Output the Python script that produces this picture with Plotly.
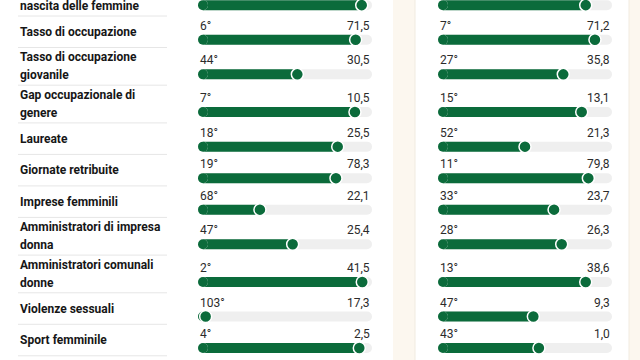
import plotly.graph_objects as go

# ---- data ----
labels = [
    "Speranza di vita alla<br>nascita delle femmine",
    "Tasso di occupazione",
    "Tasso di occupazione<br>giovanile",
    "Gap occupazionale di<br>genere",
    "Laureate",
    "Giornate retribuite",
    "Imprese femminili",
    "Amministratori di impresa<br>donna",
    "Amministratori comunali<br>donne",
    "Violenze sessuali",
    "Sport femminile",
]
left_rank = ["3°", "6°", "44°", "7°", "18°", "19°", "68°", "47°", "2°", "103°", "4°"]
left_value = ["85,9", "71,5", "30,5", "10,5", "25,5", "78,3", "22,1", "25,4", "41,5", "17,3", "2,5"]
left_score = [94.1, 90.6, 57.1, 90.2, 80.3, 79.3, 35.6, 54.4, 94.4, 4.4, 92.7]

right_rank = ["13°", "7°", "27°", "15°", "52°", "11°", "33°", "28°", "13°", "47°", "43°"]
right_value = ["85,5", "71,2", "35,8", "13,1", "21,3", "79,8", "23,7", "26,3", "38,6", "9,3", "1,0"]
right_score = [84.9, 90.2, 72.0, 82.6, 50.0, 86.4, 66.7, 71.1, 84.9, 54.8, 58.0]

# ---- layout helpers (pixel geometry) ----
W, H = 640, 360
GREEN = "#0b6b3b"
TRACK = "#efefef"
CREAM = "#fcf7ef"
LINE_H1, LINE_H2 = 31.5, 37.7
BAR_PX = 10
TRACK_PX = 174
top = 16 - LINE_H2

row_top, row_bot = [], []
y = top
for lab in labels:
    h = LINE_H2 if "<br>" in lab else LINE_H1
    row_top.append(y)
    y += h
    row_bot.append(y)
centers = [(a + b) / 2 for a, b in zip(row_top, row_bot)]
bar_y = [c + 8 for c in centers]
txt_y = [c - 6 for c in centers]
cap = (BAR_PX / 2) / TRACK_PX * 100  # cap radius in data units

panels = [
    ("x", (198 / W, 372 / W), left_rank, left_value, left_score),
    ("x2", (438 / W, 612 / W), right_rank, right_value, right_score),
]

fig = go.Figure()
annotations = []
for xa, dom, ranks, vals, scores in panels:
    n = len(scores)
    # track: bar with rounded right end + round left cap
    fig.add_trace(go.Bar(orientation="h", y=bar_y, x=[100 - cap] * n, base=[cap] * n,
                         width=BAR_PX, marker=dict(color=TRACK, cornerradius="50%", line=dict(width=0)),
                         xaxis=xa, yaxis="y", hoverinfo="skip", showlegend=False))
    fig.add_trace(go.Scatter(x=[cap] * n, y=bar_y, mode="markers",
                             marker=dict(size=BAR_PX, color=TRACK, line=dict(width=0)),
                             xaxis=xa, yaxis="y", hoverinfo="skip", showlegend=False))
    # fill
    fig.add_trace(go.Bar(orientation="h", y=bar_y, x=[max(s - cap, 0.01) for s in scores],
                         base=[cap] * n,
                         width=BAR_PX, marker=dict(color=GREEN, line=dict(width=0)),
                         xaxis=xa, yaxis="y", hoverinfo="skip", showlegend=False))
    fig.add_trace(go.Scatter(x=[cap] * n, y=bar_y, mode="markers",
                             marker=dict(size=BAR_PX, color=GREEN, line=dict(width=0)),
                             xaxis=xa, yaxis="y", hoverinfo="skip", showlegend=False))
    # dot
    fig.add_trace(go.Scatter(x=scores, y=bar_y, mode="markers",
                             marker=dict(size=12, color=GREEN, line=dict(color="white", width=1.5)),
                             xaxis=xa, yaxis="y", hoverinfo="skip", showlegend=False))
    for r, v, ty in zip(ranks, vals, txt_y):
        annotations.append(dict(x=0, y=ty, xref=xa, yref="y", text=r, showarrow=False,
                                xanchor="left", yanchor="middle",
                                font=dict(family="Roboto", size=12, color="#2b2b2b")))
        annotations.append(dict(x=100, y=ty, xref=xa, yref="y", text=v, showarrow=False,
                                xanchor="right", yanchor="middle",
                                font=dict(family="Roboto", size=12, color="#2b2b2b")))

for lab, c in zip(labels, centers):
    lines = lab.split("<br>")
    k = len(lines)
    for i, ln in enumerate(lines):
        ly = c + (i - (k - 1) / 2) * 18
        annotations.append(dict(x=18 / W, y=ly, xref="paper", yref="y", text="<b>" + ln + "</b>",
                                showarrow=False, xanchor="left", yanchor="middle", align="left",
                                font=dict(family="Roboto", size=12, color="#161616")))

shapes = [
    dict(type="rect", xref="paper", yref="paper", x0=393 / W, x1=1, y0=0, y1=1,
         fillcolor=CREAM, line=dict(width=0), layer="below"),
    dict(type="rect", xref="paper", yref="paper", x0=415 / W, x1=629 / W, y0=-0.01, y1=1.01,
         fillcolor="white", line=dict(color="#f1ebe0", width=1), layer="below"),
]
for b in row_bot:
    shapes.append(dict(type="line", xref="paper", yref="y", x0=18 / W, x1=167 / W, y0=b, y1=b,
                       line=dict(color="#e6e6e6", width=1)))

axis_common = dict(range=[0, 100], visible=False, fixedrange=True)
fig.update_layout(
    width=W, height=H,
    margin=dict(l=0, r=0, t=0, b=0),
    paper_bgcolor="white", plot_bgcolor="rgba(0,0,0,0)",
    barmode="overlay",
    xaxis=dict(domain=list(panels[0][1]), anchor="y", **axis_common),
    xaxis2=dict(domain=list(panels[1][1]), anchor="y", **axis_common),
    yaxis=dict(range=[H, 0], domain=[0, 1], visible=False, fixedrange=True),
    annotations=annotations,
    shapes=shapes,
    font=dict(family="Roboto"),
)

fig.write_html("out.html", config={"displayModeBar": False},
               post_script="document.body.style.margin='0';document.body.style.overflow='hidden';")
